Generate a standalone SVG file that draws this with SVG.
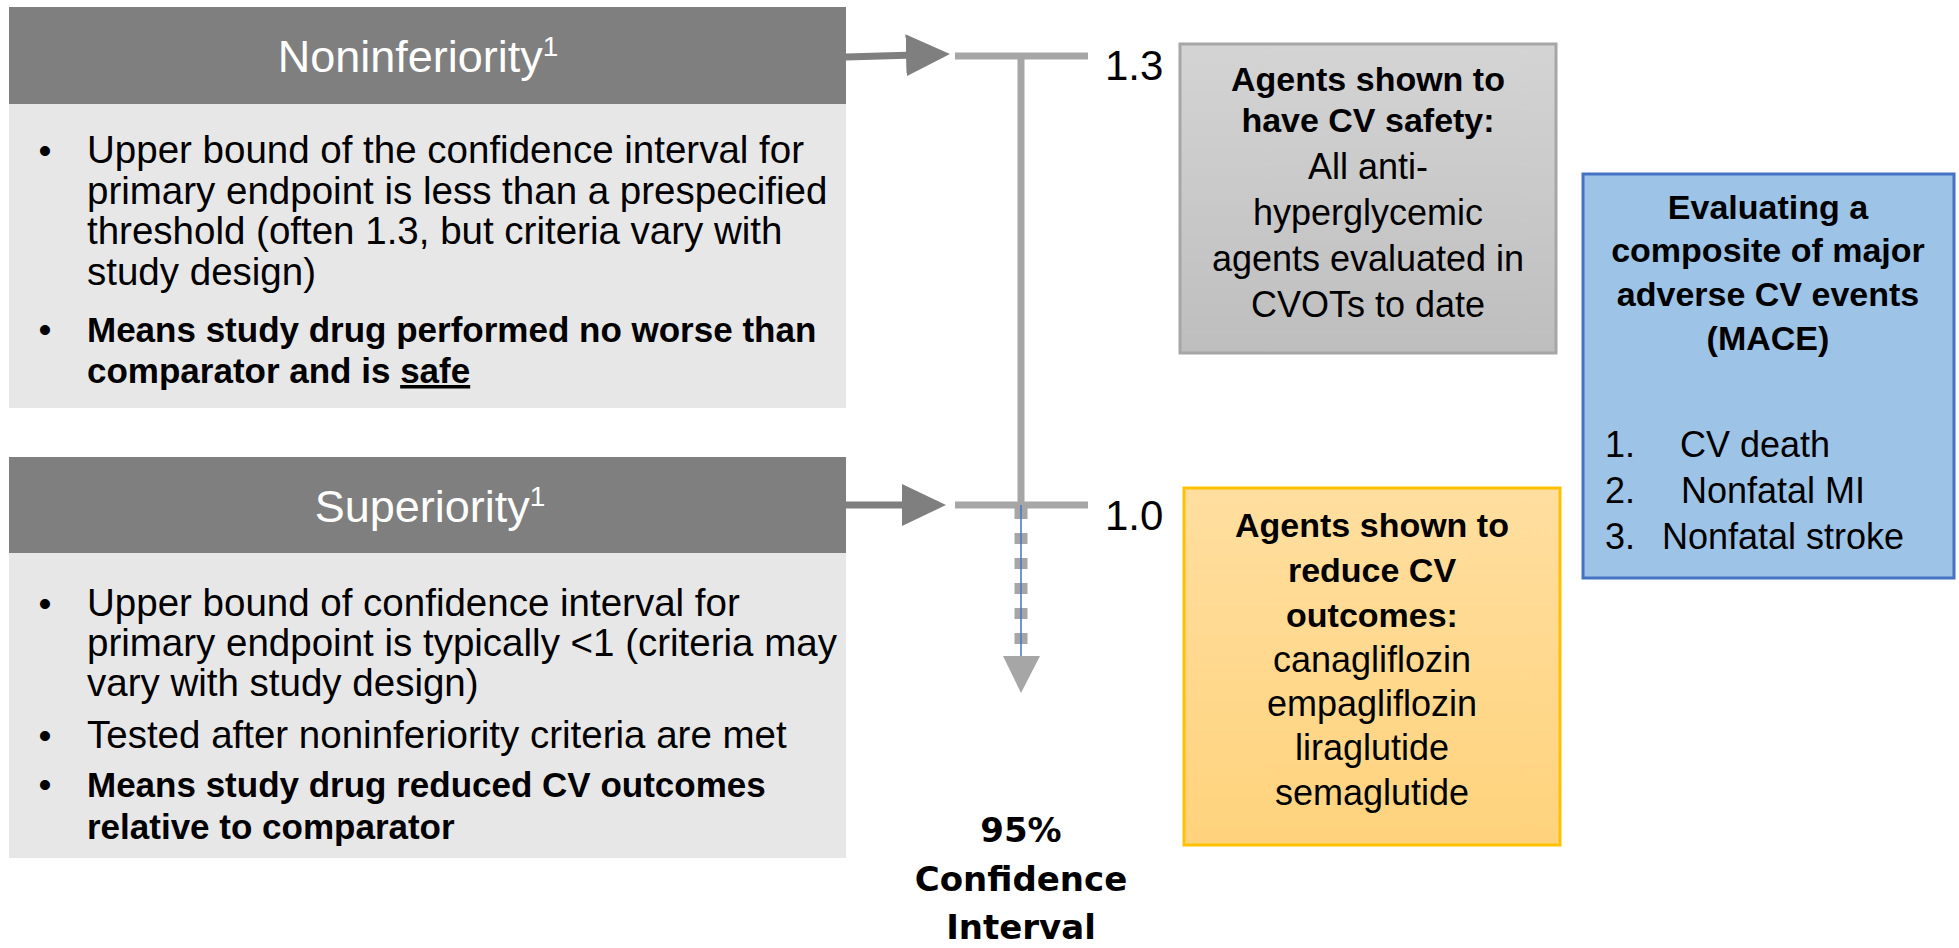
<svg xmlns="http://www.w3.org/2000/svg" width="1959" height="948" viewBox="0 0 1959 948">
<style>
  text { font-family: "Liberation Sans", Arial, sans-serif; fill: #000; }
  .hdr { fill: #7F7F7F; }
  .body { fill: #E7E7E7; }
  .title { fill: #FFFFFF; font-size: 45px; text-anchor: middle; }
  .sup { font-size: 28px; }
  .lt { font-size: 38.5px; }
  .lb { font-size: 35px; font-weight: bold; }
  .bul { font-size: 37px; text-anchor: middle; }
  .rc { text-anchor: middle; }
  .rb { font-size: 34px; font-weight: bold; }
  .rr { font-size: 36px; }
  .num { font-size: 42px; }
  .ci { font-family: "DejaVu Sans", sans-serif; font-size: 34px; font-weight: bold; text-anchor: middle; }
  .bar { stroke: #A6A6A6; stroke-width: 7; fill: none; }
  .arr { stroke: #7F7F7F; stroke-width: 7; fill: none; marker-end: url(#head); }
</style>
<defs>
  <marker id="head" markerUnits="userSpaceOnUse" markerWidth="44" markerHeight="42" viewBox="0 0 44 42" refX="9" refY="21" orient="auto">
    <path d="M0,0 L44,21 L0,42 Z" fill="#7F7F7F"/>
  </marker>
  <linearGradient id="gGray" x1="0" y1="0" x2="0" y2="1">
    <stop offset="0" stop-color="#D4D4D4"/>
    <stop offset="1" stop-color="#BEBEBE"/>
  </linearGradient>
  <linearGradient id="gYel" x1="0" y1="0" x2="0" y2="1">
    <stop offset="0" stop-color="#FFDE9F"/>
    <stop offset="1" stop-color="#FFD37D"/>
  </linearGradient>
</defs>

<g id="noninferiority">
  <rect class="hdr" x="9" y="7" width="837" height="97"/>
  <rect class="body" x="9" y="104" width="837" height="304"/>
  <text class="title" x="418" y="72">Noninferiority<tspan class="sup" dy="-16">1</tspan></text>
  <text class="bul" x="45" y="163">•</text>
  <text class="lt" x="87" y="163">Upper bound of the confidence interval for</text>
  <text class="lt" x="87" y="204">primary endpoint is less than a prespecified</text>
  <text class="lt" x="87" y="244">threshold (often 1.3, but criteria vary with</text>
  <text class="lt" x="87" y="285">study design)</text>
  <text class="bul" x="45" y="342">•</text>
  <text class="lb" x="87" y="342">Means study drug performed no worse than</text>
  <text class="lb" x="87" y="383">comparator and is <tspan style="text-decoration: underline">safe</tspan></text>
</g>

<g id="superiority">
  <rect class="hdr" x="9" y="457" width="837" height="96"/>
  <rect class="body" x="9" y="553" width="837" height="305"/>
  <text class="title" x="430" y="522">Superiority<tspan class="sup" dy="-16">1</tspan></text>
  <text class="bul" x="45" y="616">•</text>
  <text class="lt" x="87" y="616">Upper bound of confidence interval for</text>
  <text class="lt" x="87" y="656">primary endpoint is typically &lt;1 (criteria may</text>
  <text class="lt" x="87" y="696">vary with study design)</text>
  <text class="bul" x="45" y="748">•</text>
  <text class="lt" x="87" y="748">Tested after noninferiority criteria are met</text>
  <text class="bul" x="45" y="797">•</text>
  <text class="lb" x="87" y="797">Means study drug reduced CV outcomes</text>
  <text class="lb" x="87" y="839">relative to comparator</text>
</g>

<g id="connectors">
  <line class="arr" x1="846" y1="57" x2="915" y2="55"/>
  <line class="arr" x1="846" y1="505" x2="911" y2="505"/>
  <line class="bar" x1="955" y1="56" x2="1088" y2="56"/>
  <line class="bar" x1="955" y1="505" x2="1088" y2="505"/>
  <line class="bar" x1="1021" y1="56" x2="1021" y2="505"/>
  <line x1="1021" y1="508" x2="1021" y2="644" stroke="#A6A6A6" stroke-width="13" stroke-dasharray="11 14"/>
  <line x1="1021" y1="505" x2="1021" y2="657" stroke="#4472C4" stroke-width="1.5"/>
  <polygon points="1003,656 1040,656 1021,693" fill="#A6A6A6"/>
</g>

<g id="scale-labels">
  <text class="num" x="1105" y="80">1.3</text>
  <text class="num" x="1105" y="530">1.0</text>
  <text class="ci" x="1021" y="842">95%</text>
  <text class="ci" x="1021" y="891">Confidence</text>
  <text class="ci" x="1021" y="939">Interval</text>
</g>

<g id="cv-safety">
  <rect x="1180" y="44" width="376" height="309" fill="url(#gGray)" stroke="#A6A6A6" stroke-width="3"/>
  <text class="rc rb" x="1368" y="91">Agents shown to</text>
  <text class="rc rb" x="1368" y="132">have CV safety:</text>
  <text class="rc rr" x="1368" y="179">All anti-</text>
  <text class="rc rr" x="1368" y="225">hyperglycemic</text>
  <text class="rc rr" x="1368" y="271">agents evaluated in</text>
  <text class="rc rr" x="1368" y="317">CVOTs to date</text>
</g>

<g id="reduce-cv">
  <rect x="1184" y="488" width="376" height="357" fill="url(#gYel)" stroke="#FFC000" stroke-width="3"/>
  <text class="rc rb" x="1372" y="537">Agents shown to</text>
  <text class="rc rb" x="1372" y="582">reduce CV</text>
  <text class="rc rb" x="1372" y="627">outcomes:</text>
  <text class="rc rr" x="1372" y="672">canagliflozin</text>
  <text class="rc rr" x="1372" y="716">empagliflozin</text>
  <text class="rc rr" x="1372" y="760">liraglutide</text>
  <text class="rc rr" x="1372" y="805">semaglutide</text>
</g>

<g id="mace">
  <rect x="1583" y="174" width="371" height="404" fill="#9DC3E6" stroke="#4472C4" stroke-width="3"/>
  <text class="rc rb" x="1768" y="219">Evaluating a</text>
  <text class="rc rb" x="1768" y="262">composite of major</text>
  <text class="rc rb" x="1768" y="306">adverse CV events</text>
  <text class="rc rb" x="1768" y="350">(MACE)</text>
  <text class="rr" x="1605" y="457">1.</text>
  <text class="rr" x="1680" y="457">CV death</text>
  <text class="rr" x="1605" y="503">2.</text>
  <text class="rr" x="1681" y="503">Nonfatal MI</text>
  <text class="rr" x="1605" y="549">3.</text>
  <text class="rr" x="1662" y="549">Nonfatal stroke</text>
</g>
</svg>
